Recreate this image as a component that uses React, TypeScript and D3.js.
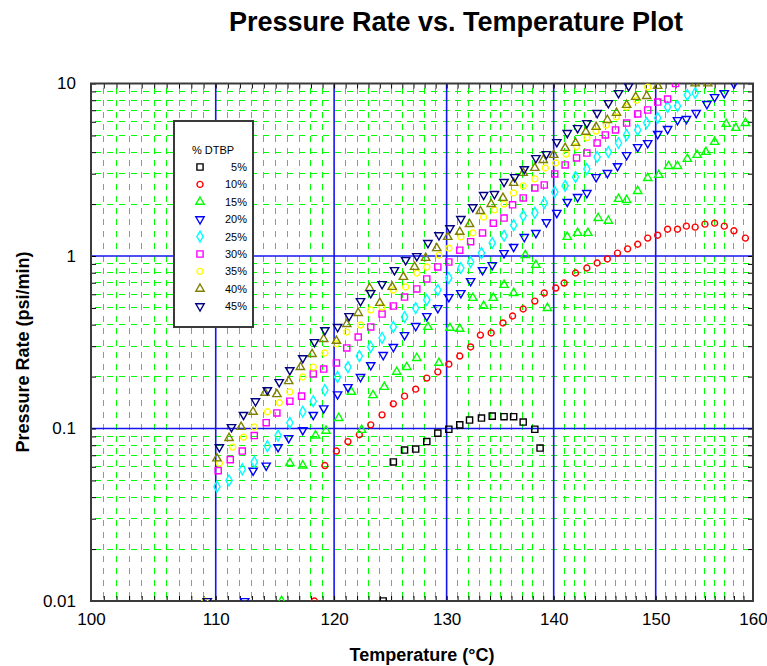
import { useRef, useEffect } from "react";
import * as d3 from "d3";

const W = 767;
const H = 666;
const PLOT = { left: 91, right: 753, top: 83.5, bottom: 601 };

// [temperature °C, pressure rate psi/min]
const S05: [number, number][] = [
  [124.3, 0.01], [125.2, 0.064], [126.2, 0.075], [127.2, 0.076], [128.2, 0.084], [129.2, 0.094],
  [130.2, 0.099], [131.2, 0.105], [132.1, 0.112], [133.2, 0.115], [134.2, 0.118], [135.3, 0.117],
  [136.2, 0.117], [137.1, 0.109], [138.2, 0.099], [138.7, 0.077],
];
const S10: [number, number][] = [
  [118.3, 0.01], [119.2, 0.061], [120.2, 0.074], [121.2, 0.084], [122.2, 0.092], [123.2, 0.105],
  [124.2, 0.12], [125.2, 0.139], [126.2, 0.154], [127.2, 0.169], [128.2, 0.196], [129.2, 0.213],
  [130.2, 0.236], [131.2, 0.263], [132.2, 0.297], [133.1, 0.348], [134.1, 0.358], [135.2, 0.409],
  [136.1, 0.449], [137.1, 0.493], [138.2, 0.548], [139.1, 0.61], [140.2, 0.652], [141.0, 0.697],
  [142.1, 0.797], [143.2, 0.852], [144.2, 0.911], [145.2, 0.961], [146.2, 1.04], [147.2, 1.1],
  [148.2, 1.17], [149.2, 1.27], [150.2, 1.32], [151.2, 1.43], [152.2, 1.43], [153.1, 1.49],
  [154.0, 1.47], [155.0, 1.53], [156.0, 1.55], [157.0, 1.49], [158.0, 1.4], [159.2, 1.27],
];
const S15: [number, number][] = [
  [115.5, 0.01], [116.2, 0.063], [117.3, 0.061], [118.4, 0.091], [119.3, 0.097], [120.4, 0.115],
  [121.5, 0.163], [122.4, 0.098], [123.4, 0.156], [124.4, 0.174], [125.5, 0.213], [126.4, 0.227],
  [127.3, 0.256], [128.3, 0.388], [129.3, 0.24], [130.3, 0.383], [131.2, 0.378], [132.4, 0.571],
  [133.4, 0.513], [134.3, 0.571], [135.3, 0.679], [136.2, 0.61], [137.3, 1.01], [138.3, 0.887],
  [139.4, 0.499], [141.3, 1.29], [142.3, 1.36], [143.3, 1.36], [144.3, 1.66], [145.3, 1.6],
  [146.3, 2.14], [147.1, 2.11], [148.2, 2.38], [149.2, 2.83], [150.3, 2.95], [151.3, 3.32],
  [152.2, 3.32], [153.2, 3.65], [154.2, 3.85], [155.1, 4.01], [156.0, 4.58], [157.2, 5.83],
  [158.2, 5.52], [159.2, 5.9],
];
const S20: [number, number][] = [
  [112.4, 0.01], [113.1, 0.057], [114.2, 0.061], [115.2, 0.078], [116.1, 0.088], [117.3, 0.098],
  [118.2, 0.12], [119.1, 0.131], [120.3, 0.158], [121.2, 0.174], [122.3, 0.199], [123.2, 0.233],
  [124.3, 0.267], [125.2, 0.297], [126.2, 0.348], [127.2, 0.393], [128.2, 0.449], [129.2, 0.499],
  [130.2, 0.578], [131.3, 0.61], [132.2, 0.716], [133.3, 0.829], [134.2, 0.887], [135.3, 1.04],
  [136.2, 1.13], [137.2, 1.29], [138.3, 1.36], [139.3, 1.57], [140.3, 1.78], [141.3, 2.06],
  [142.3, 2.2], [143.2, 2.32], [144.1, 2.87], [145.2, 3.03], [146.2, 3.32], [147.1, 3.85],
  [148.2, 4.28], [149.2, 4.52], [150.2, 5.1], [151.2, 5.45], [152.2, 6.14], [153.1, 6.23],
  [154.1, 6.75], [155.2, 7.61], [156.0, 8.35], [157.0, 8.81], [158.0, 10],
];
const S25: [number, number][] = [
  [110.1, 0.046], [111.1, 0.05], [112.2, 0.058], [113.2, 0.064], [114.3, 0.079], [115.2, 0.091],
  [116.2, 0.108], [117.3, 0.125], [118.2, 0.144], [119.2, 0.167], [120.3, 0.199], [121.2, 0.227],
  [122.2, 0.263], [123.2, 0.297], [124.2, 0.335], [125.2, 0.388], [126.2, 0.443], [127.2, 0.499],
  [128.2, 0.556], [129.2, 0.635], [130.2, 0.746], [131.3, 0.852], [132.2, 0.923], [133.2, 1.04],
  [134.2, 1.19], [135.3, 1.31], [136.2, 1.51], [137.1, 1.71], [138.2, 1.78], [139.1, 2.03],
  [140.1, 2.35], [141.1, 2.55], [142.1, 2.87], [143.2, 3.19], [144.2, 3.75], [145.3, 4.01],
  [146.3, 4.52], [147.1, 5.03], [148.2, 5.38], [149.1, 5.9], [150.2, 6.31], [151.2, 7.31],
  [152.2, 7.41], [153.2, 8.58], [154.0, 8.81],
];
const S30: [number, number][] = [
  [110.2, 0.057], [111.2, 0.066], [112.2, 0.074], [113.2, 0.091], [114.2, 0.108], [115.1, 0.123],
  [116.2, 0.144], [117.2, 0.154], [118.2, 0.207], [119.1, 0.221], [120.2, 0.24], [121.1, 0.293],
  [122.1, 0.339], [123.2, 0.388], [124.2, 0.461], [125.2, 0.513], [126.2, 0.578], [127.3, 0.644],
  [128.2, 0.736], [129.2, 0.864], [130.2, 0.923], [131.2, 1.08], [132.2, 1.21], [133.3, 1.36],
  [134.3, 1.55], [135.3, 1.66], [136.1, 1.98], [137.1, 2.17], [138.2, 2.48], [139.1, 2.58],
  [140.1, 2.99], [141.1, 3.37], [142.2, 3.7], [143.2, 3.95], [144.2, 4.52], [145.0, 5.03],
  [146.0, 5.38], [147.1, 5.9], [148.2, 6.66], [149.2, 7.02], [150.2, 7.81], [151.2, 8.13],
  [152.0, 10],
];
const S35: [number, number][] = [
  [109.1, 0.01], [110.3, 0.063], [111.4, 0.078], [112.3, 0.089], [113.2, 0.102], [114.3, 0.125],
  [115.3, 0.141], [116.2, 0.163], [117.3, 0.199], [118.2, 0.227], [119.2, 0.274], [120.2, 0.31],
  [121.1, 0.362], [122.3, 0.398], [123.2, 0.486], [124.2, 0.506], [125.2, 0.635], [126.3, 0.661],
  [127.3, 0.797], [128.2, 0.864], [129.3, 1.01], [130.2, 1.11], [131.3, 1.29], [132.4, 1.36],
  [133.4, 1.68], [134.4, 1.85], [135.3, 2.0], [136.2, 2.32], [137.1, 2.55], [138.2, 2.8],
  [139.2, 3.24], [140.2, 3.46], [141.2, 3.9], [142.2, 4.3], [143.2, 4.85], [144.1, 5.3],
  [145.1, 5.75], [146.1, 6.4], [147.1, 7.31], [148.1, 8.0], [149.2, 9.54],
];
const S40: [number, number][] = [
  [110.1, 0.067], [111.1, 0.088], [112.1, 0.102], [113.1, 0.125], [114.1, 0.161], [115.1, 0.158],
  [116.1, 0.188], [117.1, 0.227], [118.1, 0.27], [119.1, 0.33], [120.2, 0.322], [121.1, 0.403],
  [122.1, 0.467], [123.1, 0.652], [124.0, 0.534], [125.1, 0.661], [126.1, 0.756], [127.1, 0.864],
  [128.1, 0.974], [129.1, 1.11], [130.1, 1.29], [131.2, 1.38], [132.1, 1.53], [133.1, 1.82],
  [134.1, 2.0], [135.2, 2.17], [136.2, 2.65], [137.1, 3.03], [138.2, 3.24], [139.0, 3.6],
  [140.0, 3.85], [141.1, 4.23], [142.1, 4.52], [143.1, 5.24], [144.1, 5.6], [145.2, 6.14],
  [146.1, 6.75], [147.1, 7.51], [148.0, 8.35], [149.1, 8.46], [150.2, 9.67], [154.0, 10],
  [155.3, 10],
];
const S45: [number, number][] = [
  [109.3, 0.01], [110.3, 0.078], [111.3, 0.102], [112.3, 0.12], [113.3, 0.144], [114.3, 0.167],
  [115.3, 0.186], [116.2, 0.218], [117.3, 0.256], [118.3, 0.317], [119.2, 0.372], [120.3, 0.388],
  [121.3, 0.449], [122.3, 0.548], [123.2, 0.61], [124.2, 0.688], [125.3, 0.829], [126.3, 0.948],
  [127.3, 1.0], [128.3, 1.19], [129.3, 1.32], [130.3, 1.45], [131.3, 1.64], [132.4, 1.92],
  [133.4, 2.26], [134.4, 2.29], [135.3, 2.69], [136.3, 2.87], [137.2, 3.19], [138.3, 3.7],
  [139.3, 3.9], [140.3, 4.58], [141.3, 5.17], [142.3, 5.52], [143.2, 5.9], [144.2, 6.75],
  [145.3, 7.71], [146.3, 8.81], [147.3, 9.67],
];

const LEVELS = ["5%", "10%", "15%", "20%", "25%", "30%", "35%", "40%", "45%"];
const SERIES = [S05, S10, S15, S20, S25, S30, S35, S40, S45];
const COLORS = ["#000000", "#ff0000", "#00ff00", "#0000ff", "#00ffff", "#ff00ff", "#ffff00", "#808000", "#000080"];
const SHAPES = ["square", "circle", "up", "down", "diamond", "square", "circle", "up", "down"];

const X_MAJOR = [100, 110, 120, 130, 140, 150, 160];
const Y_MAJOR = [0.01, 0.1, 1, 10];
const Y_LABELS = ["0.01", "0.1", "1", "10"];

const FONT = "Arial, 'Liberation Sans', Helvetica, sans-serif";

const recip = (t: number) => 1 / (t + 273.15);

function markerPath(shape: string) {
  if (shape === "square") return d3.symbol(d3.symbolSquare, 38)()!;
  if (shape === "circle") return d3.symbol(d3.symbolCircle, 28)()!;
  if (shape === "diamond") return d3.symbol(d3.symbolDiamond, 34)()!;
  return d3.symbol(d3.symbolTriangle, 30)()!;
}

export default function App() {
  const svgRef = useRef<SVGSVGElement>(null);

  useEffect(() => {
    if (!svgRef.current) return;
    const svg = d3.select(svgRef.current);
    svg.selectAll("*").remove();

    // x axis is linear in 1/T (absolute), labelled in °C
    const xk = d3.scaleLinear().domain([recip(100), recip(160)]).range([PLOT.left, PLOT.right]);
    const x = (t: number) => xk(recip(t));
    const y = d3.scaleLog().domain([0.01, 10]).range([PLOT.bottom, PLOT.top]).clamp(true);

    const allT = d3.range(100, 161);
    const minorT = allT.filter((t) => t % 10 !== 0);
    const yTicks = y.ticks();
    const minorY = yTicks.filter((v) => !Y_MAJOR.some((m) => Math.abs(m - v) < 1e-9));

    svg.append("rect").attr("width", W).attr("height", H).attr("fill", "#fff");

    // green dashed minor grid
    const grid = svg.append("g").attr("stroke", "#00ff00").attr("stroke-width", 1).attr("shape-rendering", "crispEdges");
    grid.selectAll("line.v")
      .data(minorT)
      .join("line")
      .attr("class", "v")
      .attr("x1", (d) => x(d)).attr("x2", (d) => x(d))
      .attr("y1", PLOT.top + 4).attr("y2", PLOT.bottom)
      .attr("stroke-dasharray", "6,6");
    grid.selectAll("line.h")
      .data(minorY)
      .join("line")
      .attr("class", "h")
      .attr("x1", PLOT.left + 4).attr("x2", PLOT.right)
      .attr("y1", (d) => y(d)).attr("y2", (d) => y(d))
      .attr("stroke-dasharray", "6,6");

    // blue major grid
    const major = svg.append("g").attr("stroke", "#1414f0").attr("stroke-width", 1.6);
    major.selectAll("line.v")
      .data(X_MAJOR.slice(1, -1))
      .join("line")
      .attr("x1", (d) => x(d)).attr("x2", (d) => x(d))
      .attr("y1", PLOT.top).attr("y2", PLOT.bottom);
    major.selectAll("line.h")
      .data(Y_MAJOR.slice(1, -1))
      .join("line")
      .attr("class", "h")
      .attr("x1", PLOT.left).attr("x2", PLOT.right)
      .attr("y1", (d) => y(d)).attr("y2", (d) => y(d));

    // inside ticks on all four sides
    const fmtX = (d: d3.NumberValue) => {
      const t = Math.round(1 / +d - 273.15);
      return X_MAJOR.includes(t) ? String(t) : "";
    };
    const fmtY = (d: d3.NumberValue) => {
      const i = Y_MAJOR.findIndex((m) => Math.abs(m - +d) < 1e-9);
      return i >= 0 ? Y_LABELS[i] : "";
    };
    const styleAxis = (g: d3.Selection<SVGGElement, unknown, null, undefined>) => {
      g.select(".domain").remove();
      g.attr("font-family", FONT).attr("font-size", 17);
      g.selectAll("text").attr("fill", "#000");
    };

    svg.append("g")
      .attr("transform", `translate(0,${PLOT.bottom})`)
      .call(d3.axisBottom(xk).tickValues(allT.map(recip)).tickSizeInner(-5).tickSizeOuter(0).tickPadding(12).tickFormat(fmtX))
      .call(styleAxis);
    svg.append("g")
      .attr("transform", `translate(0,${PLOT.top})`)
      .call(d3.axisTop(xk).tickValues(allT.map(recip)).tickSizeInner(-5).tickSizeOuter(0).tickFormat(() => ""))
      .call(styleAxis);
    svg.append("g")
      .attr("transform", `translate(${PLOT.left},0)`)
      .call(d3.axisLeft(y).tickValues(yTicks).tickSizeInner(-5).tickSizeOuter(0).tickPadding(15).tickFormat(fmtY))
      .call(styleAxis);
    svg.append("g")
      .attr("transform", `translate(${PLOT.right},0)`)
      .call(d3.axisRight(y).tickValues(yTicks).tickSizeInner(-5).tickSizeOuter(0).tickFormat(() => ""))
      .call(styleAxis);

    // frame
    svg.append("rect")
      .attr("x", PLOT.left).attr("y", PLOT.top)
      .attr("width", PLOT.right - PLOT.left).attr("height", PLOT.bottom - PLOT.top)
      .attr("fill", "none").attr("stroke", "#3a3a3a").attr("stroke-width", 2);

    // data markers, clipped to the plot frame
    svg.append("clipPath").attr("id", "plot-clip")
      .append("rect")
      .attr("x", PLOT.left).attr("y", PLOT.top)
      .attr("width", PLOT.right - PLOT.left).attr("height", PLOT.bottom - PLOT.top);
    const marks = svg.append("g").attr("clip-path", "url(#plot-clip)");
    SERIES.forEach((data, i) => {
      marks.append("g")
        .selectAll("path")
        .data(data)
        .join("path")
        .attr("d", markerPath(SHAPES[i]))
        .attr("transform", (d) => `translate(${x(d[0])},${y(d[1])})${SHAPES[i] === "down" ? " rotate(180)" : ""}`)
        .attr("fill", "none")
        .attr("stroke", COLORS[i])
        .attr("stroke-width", 1.4);
    });

    // legend
    const lg = svg.append("g").attr("font-family", FONT).attr("font-size", 11);
    lg.append("rect")
      .attr("x", 174).attr("y", 121).attr("width", 79).attr("height", 206)
      .attr("fill", "#fff").attr("stroke", "#3a3a3a").attr("stroke-width", 2);
    lg.append("text").attr("x", 213).attr("y", 154).attr("text-anchor", "middle").text("% DTBP");
    LEVELS.forEach((lab, i) => {
      const cy = 167 + i * 17.4;
      lg.append("path")
        .attr("d", markerPath(SHAPES[i]))
        .attr("transform", `translate(200,${cy})${SHAPES[i] === "down" ? " rotate(180)" : ""}`)
        .attr("fill", "none").attr("stroke", COLORS[i]).attr("stroke-width", 1.4);
      lg.append("text").attr("x", 247).attr("y", cy + 4).attr("text-anchor", "end").text(lab);
    });

    // titles
    svg.append("text")
      .attr("x", 456).attr("y", 31).attr("text-anchor", "middle")
      .attr("font-family", FONT).attr("font-weight", "bold").attr("font-size", 27)
      .text("Pressure Rate vs. Temperature Plot");
    svg.append("text")
      .attr("x", 422).attr("y", 661).attr("text-anchor", "middle")
      .attr("font-family", FONT).attr("font-weight", "bold").attr("font-size", 18)
      .text("Temperature (°C)");
    svg.append("text")
      .attr("transform", "translate(29,352) rotate(-90)").attr("text-anchor", "middle")
      .attr("font-family", FONT).attr("font-weight", "bold").attr("font-size", 18)
      .text("Pressure Rate (psi/min)");
  }, []);

  return <svg ref={svgRef} width={W} height={H} style={{ position: "absolute", left: 0, top: 0 }} />;
}
